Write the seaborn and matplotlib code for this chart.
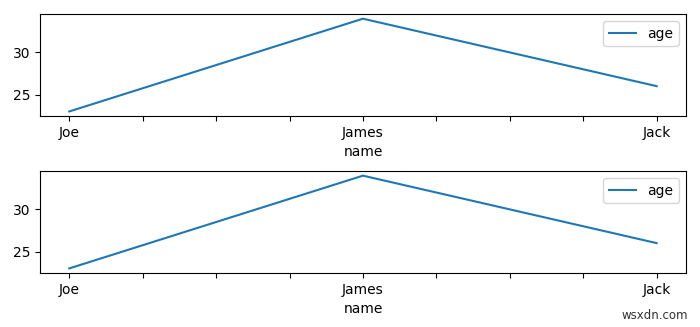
import matplotlib
matplotlib.use("Agg")
import matplotlib.pyplot as plt
import seaborn as sns
import pandas as pd

names = ["Joe", "James", "Jack"]
ages = [23, 34, 26]

df = pd.DataFrame({"name": names, "age": ages})
df["pos"] = range(len(names))

fig = plt.figure(figsize=(7, 3.27), dpi=100)
ax1 = fig.add_axes([0.057, 0.645, 0.923, 0.312])
ax2 = fig.add_axes([0.057, 0.165, 0.923, 0.312])

for ax in (ax1, ax2):
    sns.lineplot(data=df, x="pos", y="age", ax=ax, label="age", color="#1f77b4")
    ticks = [i * 0.25 for i in range(9)]
    ax.set_xticks(ticks)
    ax.set_xticklabels([names[int(t)] if t == int(t) else "" for t in ticks])
    ax.set_xlim(-0.1, 2.1)
    ax.set_xlabel("name")
    ax.set_ylabel("")
    ax.legend(loc="upper right")

fig.text(0.983, 0.015, "wsxdn.com", ha="right", va="bottom", fontsize=8.5, color="#333333")
fig.savefig("out.png", dpi=100)
